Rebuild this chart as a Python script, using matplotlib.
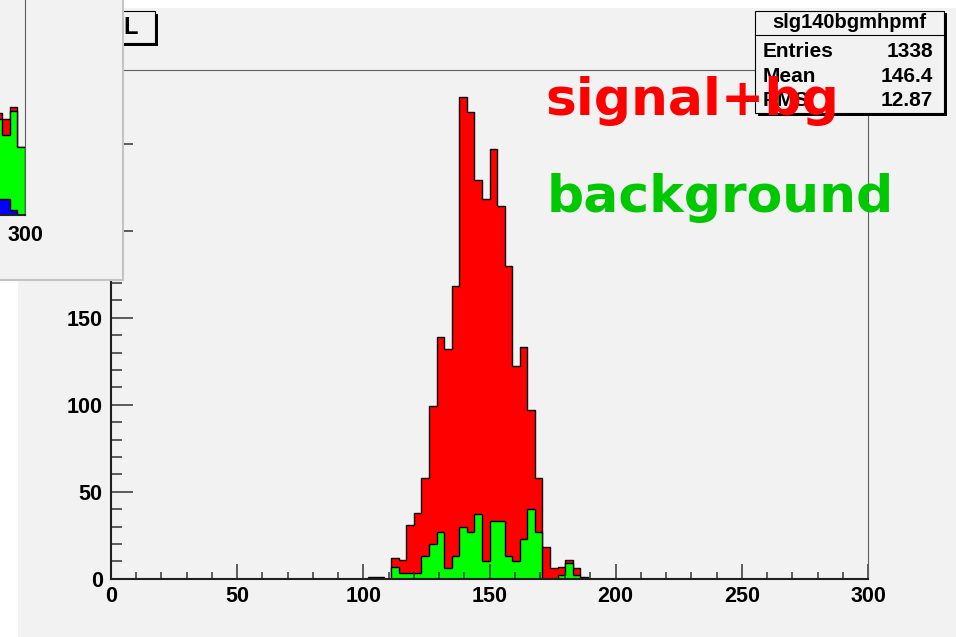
import numpy as np
import matplotlib
matplotlib.use("Agg")
import matplotlib.pyplot as plt
from matplotlib.patches import Rectangle
from matplotlib.ticker import MultipleLocator

W, H = 956, 637

# 100 bins of width 3 from 0 to 300, listed from bin 34 (102-105) on
first_bin = 34
signal_bg = [1, 1, 0, 12, 11, 31, 38, 58, 99, 139, 132, 168, 277, 268, 229, 218,
             247, 214, 180, 122, 133, 97, 58, 18, 6, 7, 11, 6, 1]
background = [0, 0, 0, 7, 3, 3, 3, 13, 20, 27, 6, 13, 30, 27, 37, 10,
              33, 33, 13, 10, 23, 40, 27, 0, 0, 2, 9, 2, 0]

# the other pad (top left), only its last bins are visible
inset_first_bin = 96
inset_total = [25.5, 24, 27, 17]
inset_green = [24, 20, 26, 17]
inset_blue = [4, 4, 1.2, 0]

stats_name = "slg140bgmhpmf"
stats_rows = [("Entries", "1338"), ("Mean", "146.4"), ("RMS", "12.87")]

BG = "#f2f2f2"
TICKFONT = dict(family="Liberation Sans", weight="bold", size=15.5)


def fx(x):
    return x / W


def fy(y):
    return 1 - y / H


def full(vals, start):
    out = np.zeros(100)
    out[start:start + len(vals)] = vals
    return out


edges = np.arange(0, 301, 3)

fig = plt.figure(figsize=(W / 100, H / 100), dpi=100)
fig.patch.set_facecolor("white")

# canvas
fig.patches.append(Rectangle((fx(18), 0), 1 - fx(18), fy(8), transform=fig.transFigure,
                             facecolor=BG, edgecolor="none", zorder=-1))

# main frame
ax = fig.add_axes([fx(111), fy(578.7), fx(868) - fx(111), fy(70) - fy(578.7)])
ax.set_facecolor(BG)
ax.stairs(full(signal_bg, first_bin), edges, fill=True, facecolor="#ff0000",
          edgecolor="black", linewidth=1.0)
ax.stairs(full(background, first_bin), edges, fill=True, facecolor="#00ff00",
          edgecolor="black", linewidth=1.0)
ax.set_xlim(0, 300)
ax.set_ylim(0, 292.4)
ax.xaxis.set_major_locator(MultipleLocator(50))
ax.xaxis.set_minor_locator(MultipleLocator(10))
ax.yaxis.set_major_locator(MultipleLocator(50))
ax.yaxis.set_minor_locator(MultipleLocator(10))
ax.tick_params(which="both", direction="in", color="#333333", width=1.1)
ax.tick_params(axis="y", which="major", length=15.8, pad=6)
ax.tick_params(axis="y", which="minor", length=7.9)
ax.tick_params(axis="x", which="major", length=10.8, pad=5)
ax.tick_params(axis="x", which="minor", length=5.4)
for lab in ax.get_xticklabels() + ax.get_yticklabels():
    lab.set_fontproperties(TICKFONT)
for s in ["top", "right"]:
    ax.spines[s].set_color("#606060")
    ax.spines[s].set_linewidth(0.8)
for s in ["left", "bottom"]:
    ax.spines[s].set_color("#202020")
    ax.spines[s].set_linewidth(1.5)

# title box, mostly hidden under the other pad
fig.patches.append(Rectangle((fx(43), fy(46)), fx(158) - fx(43), fy(14) - fy(46),
                             transform=fig.transFigure, facecolor="black",
                             edgecolor="none", zorder=1.5))
fig.patches.append(Rectangle((fx(40), fy(43)), fx(155) - fx(40), fy(11) - fy(43),
                             transform=fig.transFigure, facecolor=BG,
                             edgecolor="black", linewidth=0.8, zorder=2))
fig.text(fx(138), fy(28), "L", ha="right", va="center", family="Liberation Sans",
         weight="bold", size=17, zorder=3)

# stats box
fig.patches.append(Rectangle((fx(758), fy(116)), fx(947) - fx(758), fy(13) - fy(116),
                             transform=fig.transFigure, facecolor="black",
                             edgecolor="none", zorder=1.5))
fig.patches.append(Rectangle((fx(755), fy(113)), fx(944) - fx(755), fy(10.5) - fy(113),
                             transform=fig.transFigure, facecolor=BG,
                             edgecolor="black", linewidth=0.8, zorder=2))
fig.lines.append(plt.Line2D([fx(755), fx(944)], [fy(35), fy(35)], transform=fig.transFigure,
                            color="black", linewidth=0.8, zorder=2.5))
fig.text(fx(849), fy(22.5), stats_name, ha="center", va="center", family="Liberation Sans",
         weight="bold", size=14.5, zorder=3)
for i, (k, v) in enumerate(stats_rows):
    yy = 51.5 + 24.5 * i
    fig.text(fx(763), fy(yy), k, ha="left", va="center", family="Liberation Sans",
             weight="bold", size=15, zorder=3)
    fig.text(fx(933), fy(yy), v, ha="right", va="center", family="Liberation Sans",
             weight="bold", size=15, zorder=3)

# legend texts
fig.text(fx(545), fy(115), "signal+bg", ha="left", va="baseline", family="DejaVu Sans",
         weight="bold", size=37.4, color="#ff0000", zorder=4)
fig.text(fx(547), fy(212), "background", ha="left", va="baseline", family="DejaVu Sans",
         weight="bold", size=37.4, color="#00c800", zorder=4)

# the other pad on top
panel = fig.add_axes([0, fy(280), fx(123), 1 - fy(280)])
panel.set_zorder(5)
panel.set_facecolor(BG)
panel.set_xticks([])
panel.set_yticks([])
for s in ["top", "left"]:
    panel.spines[s].set_visible(False)
for s in ["right", "bottom"]:
    panel.spines[s].set_color("#c4c4c4")
    panel.spines[s].set_linewidth(1.5)

inset = fig.add_axes([fx(25 - 757), fy(215), 757 / W, 215 / H])
inset.set_zorder(6)
inset.set_facecolor("none")
inset.stairs(full(inset_total, inset_first_bin), edges, fill=True, facecolor="#ff0000",
             edgecolor="black", linewidth=1.0)
inset.stairs(full(inset_green, inset_first_bin), edges, fill=True, facecolor="#00ff00",
             edgecolor="black", linewidth=1.0)
inset.stairs(full(inset_blue, inset_first_bin), edges, fill=True, facecolor="#0000ff",
             edgecolor="black", linewidth=1.0)
inset.set_xlim(0, 300)
inset.set_ylim(0, 53.75)
inset.set_xticks([300])
inset.set_yticks([])
inset.tick_params(axis="x", length=0, pad=7)
for lab in inset.get_xticklabels():
    lab.set_fontproperties(TICKFONT)
for s in ["top", "left"]:
    inset.spines[s].set_visible(False)
inset.spines["right"].set_color("#606060")
inset.spines["right"].set_linewidth(0.8)
inset.spines["bottom"].set_color("#202020")
inset.spines["bottom"].set_linewidth(1.5)

fig.savefig("out.png", dpi=100)
